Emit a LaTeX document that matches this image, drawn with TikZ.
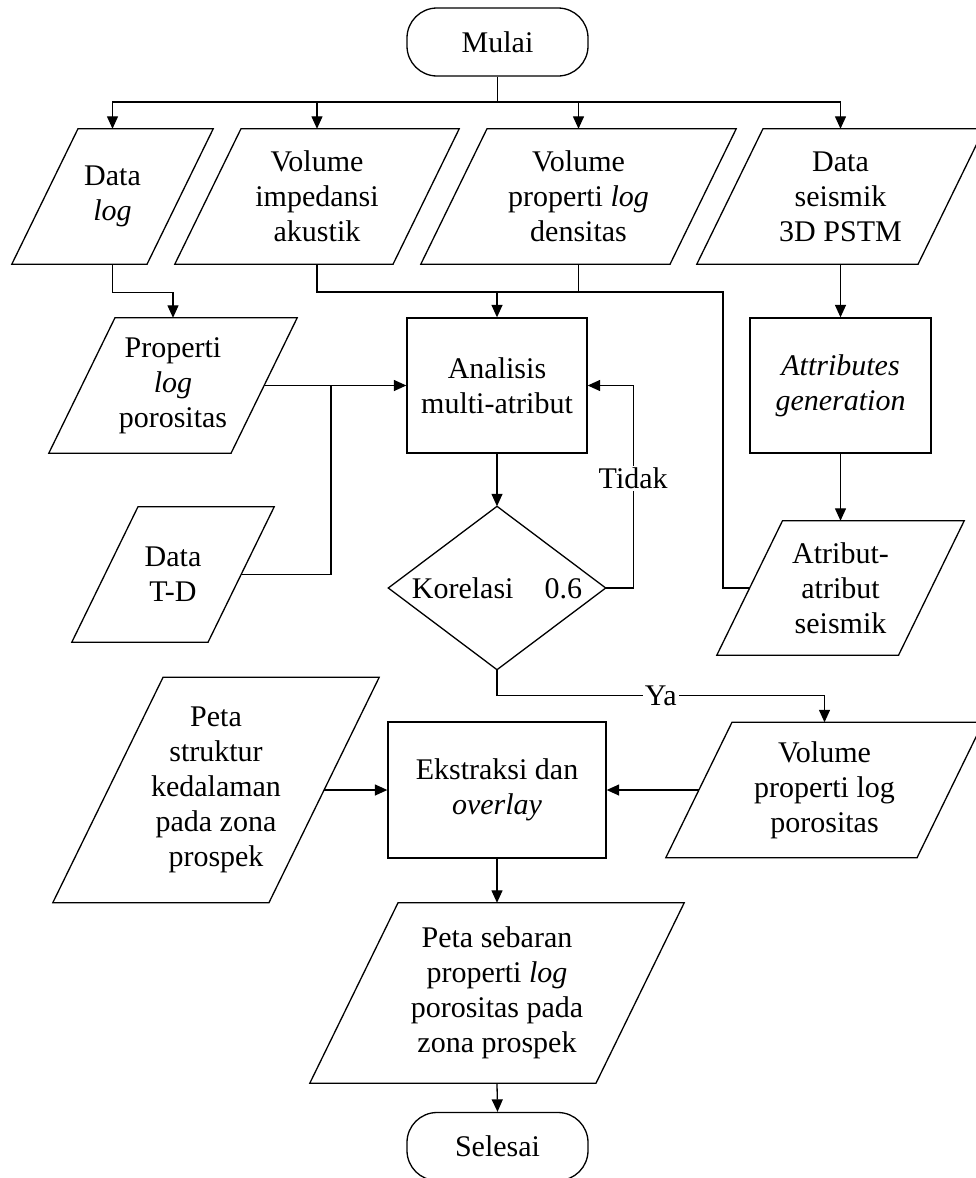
\documentclass[tikz,border=0pt]{standalone}
\usepackage{fontspec}
\setmainfont{Liberation Serif}
\usetikzlibrary{calc,arrows.meta}

\tikzset{
  flow/.style={line width=1.3pt, line join=miter},
  arrow/.style={flow, -{Triangle[length=12.5pt,width=11pt]}},
  txt/.style={font=\fontsize{30}{35}\selectfont, align=center, inner sep=0pt},
  procbox/.style={txt, draw, flow},
  term/.style={txt, draw, flow, rounded corners=30pt, minimum width=181pt, minimum height=68pt},
  lbl/.style={font=\fontsize{30}{35}\selectfont, fill=white, inner sep=2pt},
}

% data (input/output) box: name, centre x, centre y, width, height, text
% the slanted outline is drawn around an invisible rectangular node;
% <name>-l and <name>-r are the midpoints of the slanted sides
\newcommand\ioshape[6]{%
  \node[txt, minimum width=#4pt, minimum height=#5pt] (#1) at (#2,#3) {#6};
  \pgfmathsetmacro\ioOff{0.49*#5}
  \draw[flow] ($(#1.north west)+(\ioOff pt,0)$) -- (#1.north east)
     -- ($(#1.south east)-(\ioOff pt,0)$) -- (#1.south west) -- cycle;
  \coordinate (#1-l) at ($(#1.west)+(0.5*\ioOff pt,0)$);
  \coordinate (#1-r) at ($(#1.east)-(0.5*\ioOff pt,0)$);
}

\begin{document}
\begin{tikzpicture}[x=1pt,y=-1pt]
\useasboundingbox (0,0) rectangle (975,1178);

% start
\node[term] (start) at (497.5,42) {Mulai};

% first row of inputs
\ioshape{dlog}{112.5}{196.5}{201}{135}{Data\\\textit{log}}
\ioshape{imp}{317}{196.5}{284}{135}{Volume\\impedansi\\akustik}
\ioshape{dens}{578.5}{196.5}{315}{135}{Volume\\properti \textit{log}\\densitas}
\ioshape{seis}{840.5}{196.5}{287}{135}{Data\\seismik\\3D PSTM}

% second row
\ioshape{prop}{173}{385.5}{248}{135}{Properti\\\textit{log}\\porositas}
\node[procbox, minimum width=180pt, minimum height=135pt] (ana) at (497,385.5) {Analisis\\multi-atribut};
\node[procbox, minimum width=181pt, minimum height=135pt] (agen) at (840.5,385.5) {\textit{Attributes}\\\textit{generation}};

% third row
\ioshape{td}{173}{574.5}{202}{135}{Data\\T-D}
\node[txt, minimum width=217pt, minimum height=163pt] (dia) at (497,588) {Korelasi\hspace{31pt}0.6};
\draw[flow] (dia.north) -- (dia.east) -- (dia.south) -- (dia.west) -- cycle;
\ioshape{atr}{840.5}{588}{247}{134}{Atribut-\\atribut\\seismik}

% fourth row
\ioshape{ps}{216}{790}{326}{225}{Peta\\struktur\\kedalaman\\pada zona\\prospek}
\node[procbox, minimum width=218pt, minimum height=136pt] (ekst) at (497,790) {Ekstraksi dan\\\textit{overlay}};
\ioshape{vp}{824.5}{790}{317}{135}{Volume\\properti log\\porositas}

% result and end
\ioshape{seb}{497}{993}{374}{180}{Peta sebaran\\properti \textit{log}\\porositas pada\\zona prospek}
\node[term] (end) at (497.5,1146.5) {Selesai};

% connectors from the start
\coordinate (bus) at (497.5,102);
\draw[flow] (start.south) -- (bus);
\draw[arrow] (bus) -| (dlog.north);
\draw[arrow] (bus) -| (imp.north);
\draw[arrow] (bus) -| (dens.north);
\draw[arrow] (bus) -| (seis.north);

% inputs to the multi-attribute analysis
\draw[arrow] (dlog.south) -- ++(0,28) -| (prop.north);
\coordinate (busB) at (723,292);
\draw[flow] (imp.south) |- (busB) -- (busB |- atr-l) -- (atr-l);
\draw[flow] (dens.south) -- (dens.south |- busB);
\draw[arrow] (ana.north |- busB) -- (ana.north);
\draw[arrow] (prop-r) -- (ana.west);
\coordinate (tdj) at (331,385.5);
\draw[flow] (td-r) -| (tdj);

% seismic attribute branch
\draw[arrow] (seis.south) -- (agen.north);
\draw[arrow] (agen.south) -- (atr.north);

% decision
\draw[arrow] (ana.south) -- (dia.north);
\draw[arrow] (dia.east) -- ++(27.5,0) coordinate (tk) -- (tk |- ana.east)
   node[lbl, pos=0.54] (tidak) {Tidak} -- (ana.east);
\draw[arrow] (dia.south) -- ++(0,26) -| node[lbl, pos=0.25] (ya) {Ya} (vp.north);

% extraction and overlay
\draw[arrow] (ps-r) -- (ekst.west);
\draw[arrow] (vp-l) -- (ekst.east);
\draw[arrow] (ekst.south) -- (seb.north);
\draw[arrow] (seb.south) -- (end.north);
\end{tikzpicture}
\end{document}
